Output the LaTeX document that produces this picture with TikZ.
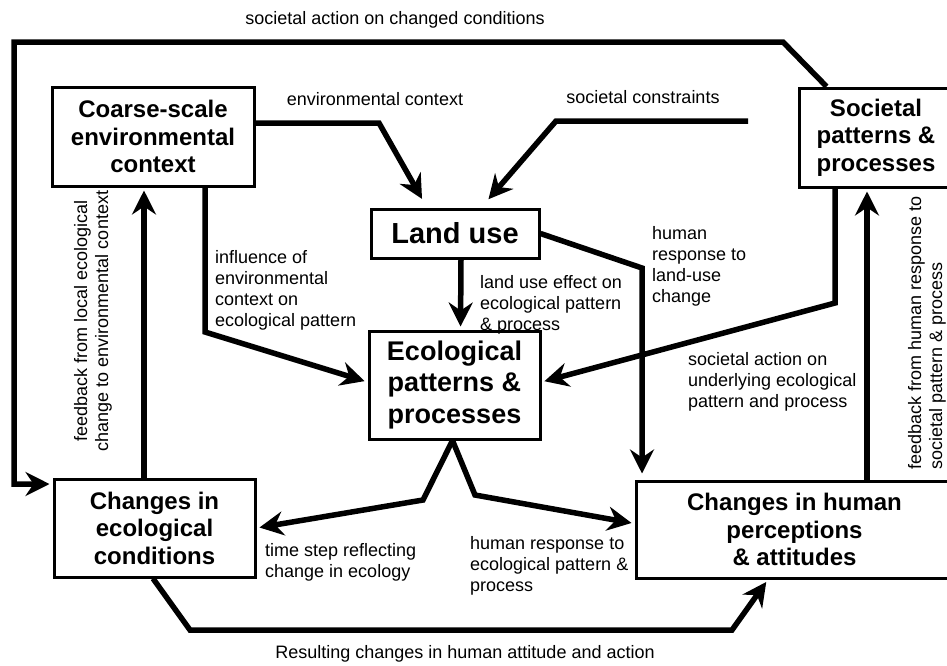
\documentclass[tikz,border=0pt]{standalone}
\usepackage{fontspec}
\setmainfont{Liberation Sans}
\usetikzlibrary{arrows.meta,calc}
\tikzset{
  box/.style={draw, line width=3pt, inner sep=0pt, align=center,
    font=\bfseries\fontsize{24}{27.5}\selectfont},
  conn/.style={line width=5.5pt, shorten >=3pt,
    -{Stealth[length=24pt,width=24pt,inset=8pt]}},
  lbl/.style={inner sep=0pt, align=left, font=\fontsize{18}{21}\selectfont}
}
\begin{document}
\begin{tikzpicture}[x=1pt,y=-1pt]
\useasboundingbox (0,0) rectangle (947,665);
% boxes
\node[box, minimum width=202pt, minimum height=99pt] (coarse) at (153,136.5) {Coarse-scale\\environmental\\context};
\node[box, minimum width=168pt, minimum height=49pt, font=\bfseries\fontsize{29}{33}\selectfont] (landuse) at (455,233.5) {Land use};
\node[box, minimum width=171pt, minimum height=108pt, font=\bfseries\fontsize{27}{31.7}\selectfont] (eco) at (454.5,385) {Ecological\\patterns \&\\processes};
\node[box, minimum width=154pt, minimum height=99pt] (societal) at (876,137.5) {Societal\\patterns \&\\processes};
\node[box, minimum width=201pt, minimum height=98pt] (ecochg) at (154.5,528) {Changes in\\ecological\\conditions};
\node[box, minimum width=317pt, minimum height=97pt] (human) at (794.5,529.5) {Changes in human\\perceptions\\\& attitudes};
% bend points
\coordinate (t1) at (783,42);
\coordinate (t2) at (14,42);
\coordinate (t3) at (14,484);
\coordinate (e1) at (379,123);
\coordinate (s0) at (748,121);
\coordinate (s1) at (556,121);
\coordinate (i1) at (205,332);
\coordinate (h1) at (642,268);
\coordinate (s2) at (835,303);
\coordinate (f1) at (867,300);
\coordinate (f2) at (144,300);
\coordinate (v1) at (423,500);
\coordinate (v2) at (475,495);
\coordinate (b1) at (190,630);
\coordinate (b2) at (732,630);
% connectors
\draw[conn] ([xshift=29pt]societal.north west) -- (t1) -- (t2) -- (t3) -- (t3 -| ecochg.west);
\draw[conn] (coarse.east |- e1) -- (e1) -- ([xshift=54pt,yshift=6pt]landuse.north west);
\draw[conn] (s0) -- (s1) -- ([xshift=117pt,yshift=6pt]landuse.north west);
\draw[conn] (coarse.south -| i1) -- (i1) -- ([yshift=3pt]eco.west);
\draw[conn] ([xshift=6pt]landuse.south) -- ([xshift=6pt]eco.north);
\draw[conn] (landuse.east) -- (h1) -- ([yshift=3pt]h1 |- human.north);
\draw[conn] (societal.south -| s2) -- (s2) -- ([yshift=3pt]eco.east);
\draw[conn] (human.north -| f1) -- (f1 |- societal.south);
\draw[conn] (ecochg.north -| f2) -- (f2 |- coarse.south);
\draw[conn] ([xshift=-2pt]eco.south) -- (v1) -- (ecochg.east);
\draw[conn] ([xshift=-2pt]eco.south) -- (v2) -- ([yshift=6pt]human.west);
\draw[conn] ([xshift=-1.5pt]ecochg.south) -- (b1) -- (b2) -- ([xshift=-26.5pt]human.south);
% labels (multi-line: base = last line baseline)
\node[lbl, anchor=base] (lt) at (395,24) {societal action on changed conditions};
\node[lbl, anchor=base] (le) at (375,105) {environmental context};
\node[lbl, anchor=base] (ls) at (643,103) {societal constraints};
\node[lbl, anchor=base west] (li) at (215,326) {influence of\\environmental\\context on\\ecological pattern};
\node[lbl, anchor=base west] (ll) at (480,330) {land use effect on\\ecological pattern\\\& process};
\node[lbl, anchor=base west] (lh) at (652,302) {human\\response to\\land-use\\change};
\node[lbl, anchor=base west] (lu) at (688,407) {societal action on\\underlying ecological\\pattern and process};
\node[lbl, anchor=base west] (lts) at (265,577) {time step reflecting\\change in ecology};
\node[lbl, anchor=base west] (lhr) at (470,591) {human response to\\ecological pattern \&\\process};
\node[lbl, anchor=base] (lr) at (465,658) {Resulting changes in human attitude and action};
\node[lbl, align=center, rotate=90] (lfl) at (93,321) {feedback from local ecological\\change to environmental context};
\node[lbl, align=left, rotate=90, anchor=west] (lfr) at (927,470) {feedback from human response to\\societal pattern \& process};
\end{tikzpicture}
\end{document}
